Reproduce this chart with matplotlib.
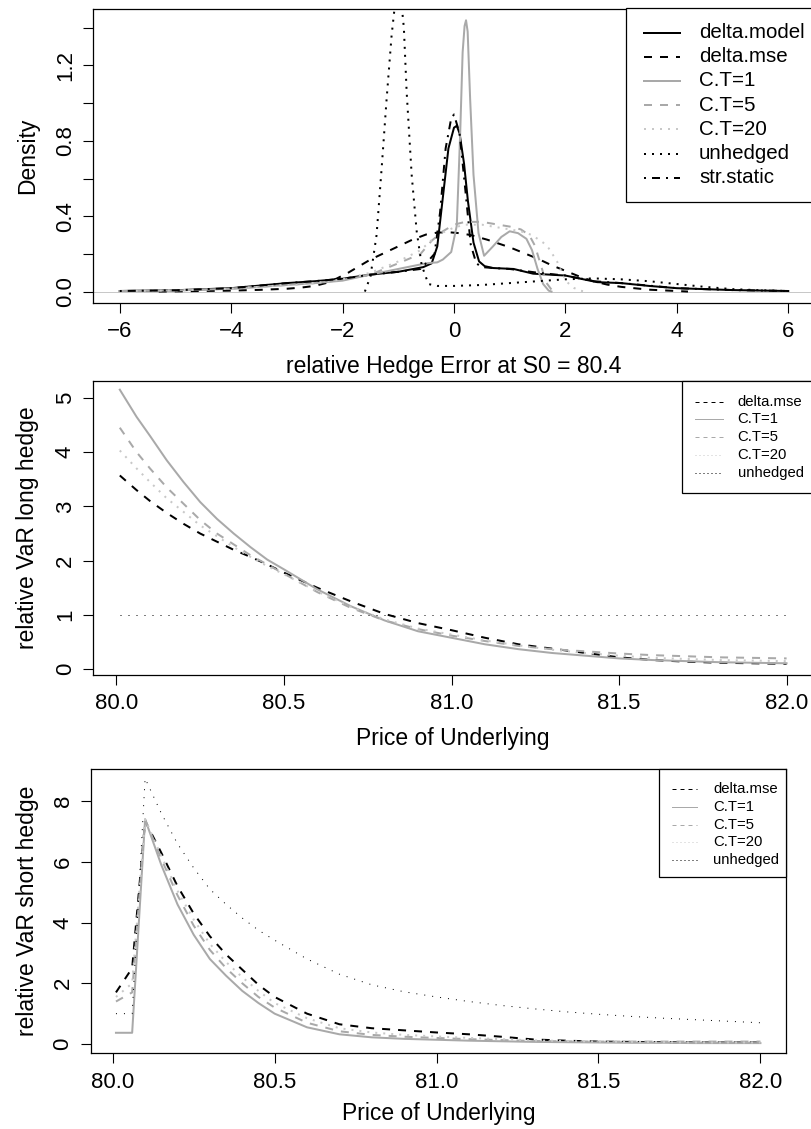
import matplotlib
matplotlib.use("Agg")
import matplotlib.pyplot as plt
from matplotlib.lines import Line2D
from matplotlib.patches import Rectangle

plt.rcParams['font.family'] = ['Liberation Sans', 'DejaVu Sans']

# ---- panel 1: densities of the relative hedge error ----
dm_x = [-6.0, -5.0, -4.0, -3.0, -2.5, -2.0, -1.5, -1.0, -0.55, -0.4, -0.3, -0.2, -0.1, 0.0,
        0.05, 0.1, 0.18, 0.25, 0.35, 0.45, 0.55, 0.7, 1.07, 1.42, 2.0, 2.57, 3.0, 3.5, 4.0,
        5.0, 6.0]
dm_y = [0.003, 0.007, 0.018, 0.045, 0.055, 0.068, 0.09, 0.105, 0.13, 0.15, 0.24, 0.5, 0.76,
        0.87, 0.88, 0.84, 0.68, 0.48, 0.26, 0.16, 0.135, 0.125, 0.12, 0.095, 0.085, 0.05,
        0.045, 0.03, 0.018, 0.008, 0.003]

ss_x = [-6.0, -5.0, -4.0, -3.0, -2.5, -2.0, -1.5, -1.0, -0.6, -0.47, -0.35, -0.25, -0.15,
        -0.05, 0.0, 0.1, 0.2, 0.3, 0.4, 0.5, 0.7, 1.0, 1.5, 2.0, 2.5, 3.0, 4.0, 5.0, 6.0]
ss_y = [0.003, 0.007, 0.018, 0.045, 0.055, 0.068, 0.09, 0.105, 0.12, 0.16, 0.2, 0.42, 0.76,
        0.92, 0.94, 0.84, 0.55, 0.25, 0.15, 0.13, 0.125, 0.12, 0.1, 0.085, 0.055, 0.045,
        0.018, 0.008, 0.003]

dmse_x = [-5.3, -5.0, -4.5, -4.0, -3.5, -3.0, -2.75, -2.5, -2.3, -2.1, -1.9, -1.7, -1.5, -1.25,
          -1.0, -0.75, -0.5, -0.3, -0.1, 0.1, 0.3, 0.6, 0.8, 1.0, 1.25, 1.5, 1.75, 2.0, 2.25,
          2.5, 2.75, 3.0, 3.5, 4.0, 4.2]
dmse_y = [0.0, 0.001, 0.003, 0.005, 0.009, 0.015, 0.021, 0.03, 0.045, 0.07, 0.1, 0.135, 0.17,
          0.205, 0.24, 0.275, 0.303, 0.313, 0.315, 0.31, 0.3, 0.275, 0.255, 0.235, 0.205,
          0.175, 0.14, 0.11, 0.08, 0.055, 0.037, 0.025, 0.01, 0.003, 0.0]

ct1_x = [-6.0, -5.0, -4.0, -3.0, -2.5, -2.0, -1.5, -1.0, -0.5, -0.3, -0.2, -0.05, 0.05, 0.11,
         0.155, 0.19, 0.216, 0.245, 0.29, 0.35, 0.44, 0.54, 0.7, 0.85, 1.0, 1.15, 1.3, 1.4,
         1.5, 1.6, 1.7, 1.75]
ct1_y = [0.003, 0.006, 0.015, 0.035, 0.045, 0.058, 0.09, 0.12, 0.15, 0.155, 0.17, 0.21, 0.35,
         0.83, 1.27, 1.41, 1.44, 1.38, 1.02, 0.62, 0.31, 0.19, 0.24, 0.29, 0.32, 0.31, 0.28,
         0.22, 0.12, 0.04, 0.005, 0.0]

ct5_x = [-6.0, -5.0, -4.0, -3.0, -2.5, -2.0, -1.5, -1.0, -0.6, -0.4, -0.2, 0.0, 0.2, 0.5, 0.8,
         1.0, 1.2, 1.35, 1.45, 1.55, 1.65, 1.75, 1.85]
ct5_y = [0.003, 0.006, 0.015, 0.035, 0.045, 0.062, 0.09, 0.15, 0.2, 0.27, 0.32, 0.355, 0.37,
         0.37, 0.355, 0.345, 0.33, 0.3, 0.245, 0.15, 0.05, 0.01, 0.0]

ct20_x = [-6.0, -5.0, -4.0, -3.0, -2.5, -2.0, -1.5, -1.0, -0.6, -0.3, 0.0, 0.2, 0.5, 0.8, 1.0,
          1.2, 1.4, 1.6, 1.7, 1.85, 1.95, 2.05, 2.15, 2.25, 2.35]
ct20_y = [0.003, 0.006, 0.015, 0.035, 0.045, 0.065, 0.1, 0.16, 0.22, 0.3, 0.34, 0.355, 0.355,
          0.34, 0.33, 0.32, 0.3, 0.26, 0.23, 0.16, 0.09, 0.045, 0.02, 0.006, 0.0]

unh_x = [-1.6, -1.5, -1.39, -1.3, -1.21, -1.12, -1.05, -1.0, -0.95, -0.9, -0.85, -0.76, -0.67,
         -0.58, -0.46, -0.3, 0.0, 0.5, 1.0, 1.5, 2.0, 2.5, 3.0, 3.5, 4.0, 4.5, 5.0, 5.5, 6.0]
unh_y = [0.0, 0.08, 0.3, 0.65, 1.02, 1.36, 1.55, 1.62, 1.55, 1.4, 1.06, 0.62, 0.32, 0.14, 0.04,
         0.03, 0.03, 0.035, 0.045, 0.055, 0.065, 0.07, 0.065, 0.055, 0.04, 0.025, 0.013,
         0.007, 0.003]

# ---- panels 2 and 3: relative VaR against price of underlying ----
price = [80.01, 80.06, 80.10, 80.15, 80.20, 80.25, 80.30, 80.35, 80.40, 80.45, 80.50, 80.60,
         80.70, 80.80, 80.90, 81.00, 81.10, 81.20, 81.30, 81.40, 81.50, 81.60, 81.70, 81.80,
         81.90, 82.00]

long_mse = [3.57, 3.3, 3.1, 2.88, 2.68, 2.5, 2.35, 2.2, 2.07, 1.93, 1.78, 1.5, 1.25, 1.02, 0.85,
            0.72, 0.58, 0.46, 0.38, 0.3, 0.22, 0.17, 0.14, 0.12, 0.11, 0.1]
long_ct1 = [5.15, 4.65, 4.3, 3.85, 3.45, 3.08, 2.77, 2.5, 2.25, 2.02, 1.84, 1.47, 1.16, 0.9, 0.7,
            0.58, 0.46, 0.37, 0.3, 0.25, 0.2, 0.17, 0.15, 0.13, 0.12, 0.11]
long_ct5 = [4.45, 4.0, 3.7, 3.35, 3.05, 2.75, 2.5, 2.3, 2.1, 1.93, 1.76, 1.42, 1.13, 0.9, 0.74,
            0.62, 0.52, 0.43, 0.37, 0.33, 0.29, 0.26, 0.24, 0.22, 0.21, 0.2]
long_ct20 = [4.03, 3.7, 3.45, 3.15, 2.9, 2.65, 2.45, 2.25, 2.07, 1.9, 1.75, 1.43, 1.15, 0.92,
             0.75, 0.64, 0.53, 0.44, 0.36, 0.3, 0.25, 0.21, 0.19, 0.17, 0.16, 0.15]
long_unh = [1.0, 1.0, 1.0, 1.0, 1.0, 1.0, 1.0, 1.0, 1.0, 1.0, 1.0, 1.0, 1.0, 1.0, 1.0, 1.0, 1.0,
            1.0, 1.0, 1.0, 1.0, 1.0, 1.0, 1.0, 1.0, 1.0]

short_mse = [1.7, 2.5, 7.35, 6.3, 5.2, 4.3, 3.55, 2.95, 2.45, 1.95, 1.55, 1.0, 0.65, 0.52, 0.45,
             0.38, 0.32, 0.24, 0.15, 0.11, 0.08, 0.07, 0.06, 0.05, 0.05, 0.05]
short_ct1 = [0.37, 0.37, 7.4, 5.9, 4.6, 3.6, 2.8, 2.25, 1.75, 1.35, 1.0, 0.55, 0.32, 0.22, 0.17,
             0.14, 0.11, 0.09, 0.07, 0.06, 0.05, 0.04, 0.04, 0.03, 0.03, 0.03]
short_ct5 = [1.4, 1.7, 7.4, 6.1, 4.9, 3.9, 3.1, 2.5, 2.0, 1.55, 1.2, 0.7, 0.42, 0.3, 0.24, 0.2,
             0.16, 0.13, 0.1, 0.09, 0.08, 0.08, 0.08, 0.08, 0.08, 0.08]
short_ct20 = [1.55, 2.0, 7.4, 6.2, 5.05, 4.1, 3.3, 2.7, 2.2, 1.75, 1.35, 0.85, 0.52, 0.38, 0.3,
              0.25, 0.2, 0.16, 0.12, 0.1, 0.08, 0.07, 0.06, 0.05, 0.05, 0.05]
short_unh = [1.0, 1.0, 8.75, 7.6, 6.6, 5.8, 5.1, 4.6, 4.15, 3.75, 3.42, 2.8, 2.3, 1.95, 1.72,
             1.55, 1.4, 1.27, 1.16, 1.06, 0.98, 0.91, 0.85, 0.8, 0.75, 0.7]

W, H = 811, 1129
PX = 0.72  # points per pixel at dpi 100
GRAY = '#a9a9a9'
LGRAY = '#c8c8c8'

STY = {
    'delta.model': dict(color='black', ls='-'),
    'delta.mse': dict(color='black', ls=(0, (4, 4))),
    'C.T=1': dict(color=GRAY, ls='-'),
    'C.T=5': dict(color=GRAY, ls=(0, (4, 4))),
    'C.T=20': dict(color=LGRAY, ls=(0, (1, 3))),
    'unhedged': dict(color='black', ls=(0, (1, 3))),
    'str.static': dict(color='black', ls=(0, (1, 3, 4, 3))),
}

fig = plt.figure(figsize=(W / 100, H / 100), dpi=100)


def panel(left, top, right, bottom):
    ax = fig.add_axes([left / W, 1 - bottom / H, (right - left) / W, (bottom - top) / H])
    for s in ax.spines.values():
        s.set_linewidth(0.9)
    ax.tick_params(direction='out', length=7, width=0.8, labelsize=16, pad=6.5)
    ax.tick_params(axis='y', labelrotation=90, pad=5.3)
    return ax


def draw_legend(labels, box, x0, x1, tx, rows, fs, lw):
    left, top, right, bottom = box
    fig.add_artist(Rectangle((left / W, 1 - bottom / H), (right - left) / W, (bottom - top) / H,
                             transform=fig.transFigure, facecolor='white', edgecolor='black',
                             lw=0.9, zorder=5))
    for lab, y in zip(labels, rows):
        fig.add_artist(Line2D([x0 / W, x1 / W], [1 - y / H, 1 - y / H], transform=fig.transFigure,
                              lw=lw * PX, zorder=6, **STY[lab]))
        fig.text(tx / W, 1 - y / H, lab, fontsize=fs, va='center', ha='left', zorder=6)


def label_text(x, y, s, rot=0):
    fig.text(x / W, 1 - y / H, s, fontsize=16.5, ha='center', va='baseline',
             rotation=rot, rotation_mode='anchor')


def var_lines(ax, series):
    for name, ys in zip(names23, series):
        if name == 'unhedged':
            ax.plot(price, ys, lw=PX, color='black', ls=(0, (1, 7)))
        else:
            ax.plot(price, ys, lw=2 * PX, **STY[name])


# panel 1
ax1 = panel(93, 8.5, 815, 302.5)
ax1.axhline(0, color='#bebebe', lw=0.6)
curves1 = [('delta.model', dm_x, dm_y), ('delta.mse', dmse_x, dmse_y), ('C.T=1', ct1_x, ct1_y),
           ('C.T=5', ct5_x, ct5_y), ('C.T=20', ct20_x, ct20_y), ('unhedged', unh_x, unh_y),
           ('str.static', ss_x, ss_y)]
for name, xs, ys in curves1:
    ax1.plot(xs, ys, lw=2 * PX, **STY[name])
ax1.set_xlim(-6.48, 6.48)
ax1.set_ylim(-0.058, 1.5025)
ax1.set_xticks([-6, -4, -2, 0, 2, 4, 6])
ax1.set_xticklabels(['\u22126', '\u22124', '\u22122', '0', '2', '4', '6'])
ax1.set_yticks([0, 0.2, 0.4, 0.6, 0.8, 1.0, 1.2, 1.4])
ax1.set_yticklabels(['0.0', '', '0.4', '', '0.8', '', '1.2', ''], va='center')
draw_legend([c[0] for c in curves1], (626, 8.5, 815, 201.7), 644, 680, 699,
            [32.5 + 24.2 * i for i in range(7)], 14.8, 2)
label_text(34, 155.5, 'Density', 90)
label_text(454, 373.3, 'relative Hedge Error at S0 = 80.4')

# panel 2
names23 = ['delta.mse', 'C.T=1', 'C.T=5', 'C.T=20', 'unhedged']
ax2 = panel(93, 381, 813.4, 674.7)
var_lines(ax2, [long_mse, long_ct1, long_ct5, long_ct20, long_unh])
ax2.set_xlim(79.93, 82.08)
ax2.set_ylim(-0.1, 5.31)
ax2.set_xticks([80.0, 80.5, 81.0, 81.5, 82.0])
ax2.set_xticklabels(['80.0', '80.5', '81.0', '81.5', '82.0'])
ax2.set_yticks([0, 1, 2, 3, 4, 5])
ax2.set_yticklabels(['0', '1', '2', '3', '4', '5'], va='center')
draw_legend(names23, (682, 381, 813.4, 492.7), 695, 723.3, 737.7,
            [401.7, 419.3, 437.3, 455.3, 473.3], 10.7, 1)
label_text(34, 527.9, 'relative VaR long hedge', 90)
label_text(453, 745, 'Price of Underlying')

# panel 3
ax3 = panel(90.7, 769.3, 786, 1053.3)
var_lines(ax3, [short_mse, short_ct1, short_ct5, short_ct20, short_unh])
ax3.set_xlim(79.932, 82.079)
ax3.set_ylim(-0.306, 9.05)
ax3.set_xticks([80.0, 80.5, 81.0, 81.5, 82.0])
ax3.set_xticklabels(['80.0', '80.5', '81.0', '81.5', '82.0'])
ax3.set_yticks([0, 2, 4, 6, 8])
ax3.set_yticklabels(['0', '2', '4', '6', '8'], va='center')
draw_legend(names23, (659.3, 769.3, 786, 876.7), 671.7, 697.3, 713.3,
            [789.3, 806.7, 824.7, 842.3, 860], 10.7, 1)
label_text(34, 911.3, 'relative VaR short hedge', 90)
label_text(438.4, 1120, 'Price of Underlying')

fig.savefig('out.png', dpi=100)
